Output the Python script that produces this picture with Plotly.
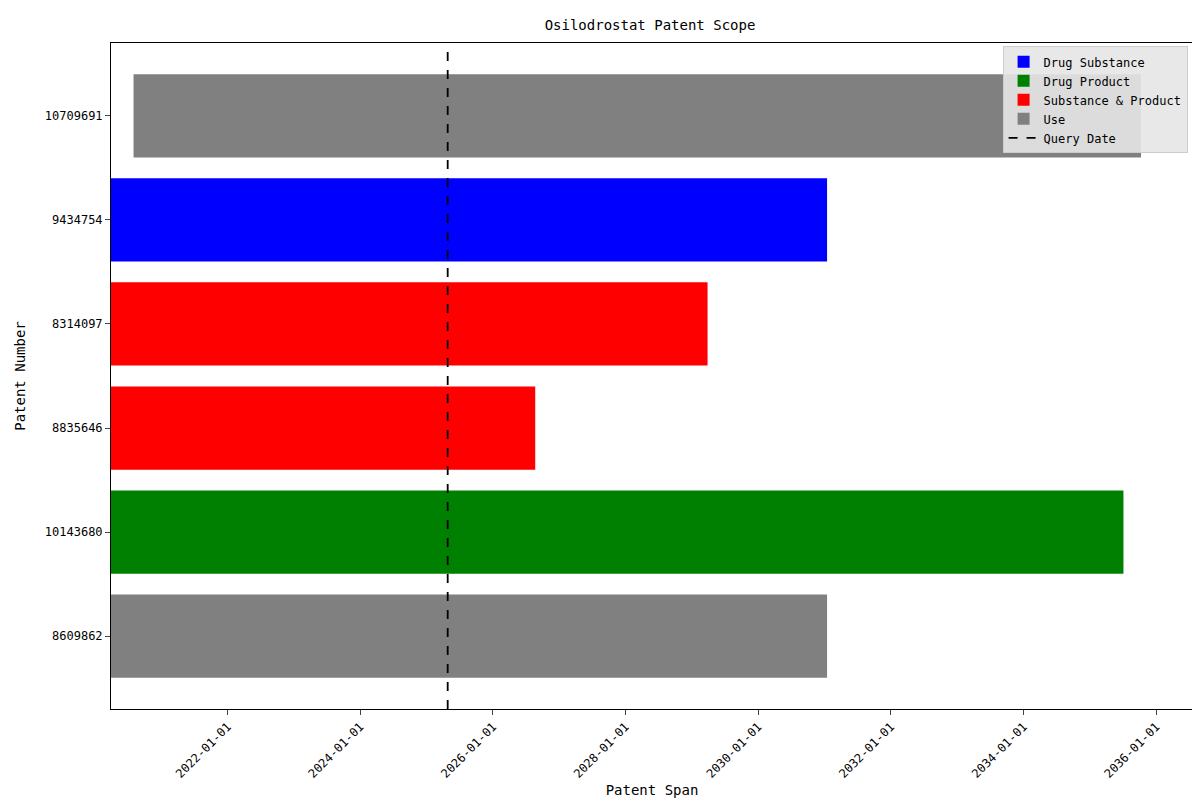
import plotly.graph_objects as go
import pandas as pd

patents = ["8609862", "10143680", "8835646", "8314097", "9434754", "10709691"]
starts = ["2011-01-01", "2011-01-01", "2011-01-01", "2011-01-01", "2011-01-01", "2020-08-01"]
ends = ["2031-01-15", "2035-07-05", "2026-08-22", "2029-03-28", "2031-01-15", "2035-10-10"]
scopes = ["Use", "Drug Product", "Substance & Product", "Substance & Product", "Drug Substance", "Use"]
query_date = "2025-04-27"
scope_order = ["Drug Substance", "Drug Product", "Substance & Product", "Use"]
colors = {"Drug Substance": "blue", "Drug Product": "green", "Substance & Product": "red", "Use": "gray"}

font = "DejaVu Sans Mono"
fig = go.Figure()
for sc in scope_order:
    idx = [i for i, s in enumerate(scopes) if s == sc]
    dur = [(pd.Timestamp(ends[i]) - pd.Timestamp(starts[i])).total_seconds() * 1000 for i in idx]
    fig.add_trace(go.Bar(
        y=[patents[i] for i in idx], x=dur, base=[starts[i] for i in idx],
        orientation="h", marker=dict(color=colors[sc], line_width=0), width=0.8, name=sc))
fig.add_trace(go.Scatter(x=[query_date, query_date], y=[0, 1], yaxis="y2", mode="lines",
                         line=dict(color="black", dash="dash", width=1.8), name="Query Date"))
fig.update_layout(
    width=1200, height=800, plot_bgcolor="white", paper_bgcolor="white",
    margin=dict(l=98, r=15, t=35, b=99),
    font=dict(family=font, size=12, color="black"),
    title=dict(text="Osilodrostat Patent Scope", x=0.535, y=0.985, xanchor="center", font=dict(size=14)),
    barmode="overlay",
    xaxis=dict(type="date", range=["2020-03-30", "2036-07-22"], tickvals=[f"{y}-01-01" for y in range(2022, 2037, 2)],
               tickformat="%Y-%m-%d", tickangle=-45, showgrid=False, showline=True, linecolor="black",
               mirror=True, ticks="outside", title=dict(text="Patent Span", standoff=5)),
    yaxis=dict(type="category", categoryorder="array", categoryarray=patents, range=[-0.7, 5.7],
               showgrid=False, showline=True, linecolor="black", mirror=True, ticks="outside",
               title=dict(text="Patent Number")),
    yaxis2=dict(overlaying="y", range=[0, 1], visible=False),
    legend=dict(x=0.995, y=0.995, xanchor="right", yanchor="top", bgcolor="rgba(230,230,230,0.9)",
                bordercolor="#ccc", borderwidth=1, font=dict(size=12)),
)
fig.write_html("out.html")
